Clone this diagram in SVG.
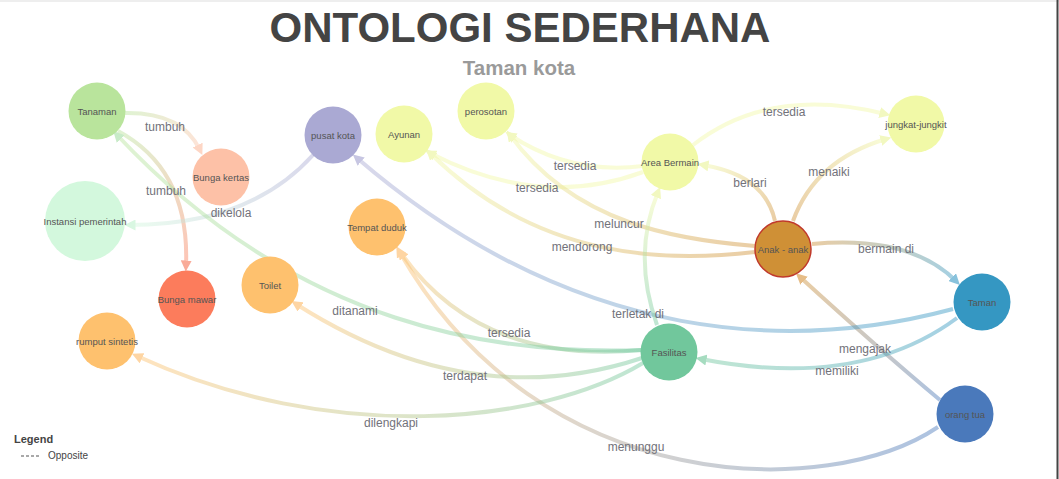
<svg xmlns="http://www.w3.org/2000/svg" width="1059" height="479" viewBox="0 0 1059 479">
<style>
.title{font-family:"Liberation Sans",Arial,sans-serif;font-weight:bold;font-size:42px;fill:#444;text-anchor:middle}
.sub{font-family:"Liberation Sans",Arial,sans-serif;font-weight:bold;font-size:20.5px;fill:#9a9a9a;text-anchor:middle}
.edge{fill:none;stroke-width:4;stroke-opacity:0.45}
.elab{font-family:"Liberation Sans",Arial,sans-serif;font-size:12px;fill:#72727a;text-anchor:middle}
.nlab{font-family:"Liberation Sans",Arial,sans-serif;font-size:9.5px;fill:#555;text-anchor:middle}
.leg{font-family:"Liberation Sans",Arial,sans-serif;fill:#444}
</style>
<defs>
<marker id="m-peach" viewBox="0 0 10 10" refX="5" refY="5" markerWidth="11" markerHeight="11" markerUnits="userSpaceOnUse" orient="auto"><path d="M0,0 L10,5 L0,10 z" fill="#fdd6c5"/></marker>
<marker id="m-coral" viewBox="0 0 10 10" refX="5" refY="5" markerWidth="11" markerHeight="11" markerUnits="userSpaceOnUse" orient="auto"><path d="M0,0 L10,5 L0,10 z" fill="#f9ab99"/></marker>
<marker id="m-mint" viewBox="0 0 10 10" refX="5" refY="5" markerWidth="11" markerHeight="11" markerUnits="userSpaceOnUse" orient="auto"><path d="M0,0 L10,5 L0,10 z" fill="#d9f7e2"/></marker>
<marker id="m-yellow" viewBox="0 0 10 10" refX="5" refY="5" markerWidth="11" markerHeight="11" markerUnits="userSpaceOnUse" orient="auto"><path d="M0,0 L10,5 L0,10 z" fill="#f2f8c0"/></marker>
<marker id="m-blue" viewBox="0 0 10 10" refX="5" refY="5" markerWidth="11" markerHeight="11" markerUnits="userSpaceOnUse" orient="auto"><path d="M0,0 L10,5 L0,10 z" fill="#88c2dc"/></marker>
<marker id="m-tan" viewBox="0 0 10 10" refX="5" refY="5" markerWidth="11" markerHeight="11" markerUnits="userSpaceOnUse" orient="auto"><path d="M0,0 L10,5 L0,10 z" fill="#e6bd88"/></marker>
<marker id="m-orange" viewBox="0 0 10 10" refX="5" refY="5" markerWidth="11" markerHeight="11" markerUnits="userSpaceOnUse" orient="auto"><path d="M0,0 L10,5 L0,10 z" fill="#fed5a3"/></marker>
<marker id="m-green" viewBox="0 0 10 10" refX="5" refY="5" markerWidth="11" markerHeight="11" markerUnits="userSpaceOnUse" orient="auto"><path d="M0,0 L10,5 L0,10 z" fill="#c8ebc8"/></marker>
<marker id="m-purple" viewBox="0 0 10 10" refX="5" refY="5" markerWidth="11" markerHeight="11" markerUnits="userSpaceOnUse" orient="auto"><path d="M0,0 L10,5 L0,10 z" fill="#c7c6e2"/></marker>
<marker id="m-teal" viewBox="0 0 10 10" refX="5" refY="5" markerWidth="11" markerHeight="11" markerUnits="userSpaceOnUse" orient="auto"><path d="M0,0 L10,5 L0,10 z" fill="#a6dcc0"/></marker>

<linearGradient id="g1" gradientUnits="userSpaceOnUse" x1="125" y1="113" x2="200" y2="150"><stop offset="0" stop-color="#b9e49c"/><stop offset="1" stop-color="#fdc1a7"/></linearGradient>
<linearGradient id="g2" gradientUnits="userSpaceOnUse" x1="118" y1="131" x2="186" y2="266"><stop offset="0" stop-color="#b9e49c"/><stop offset="1" stop-color="#fc7c5c"/></linearGradient>
<linearGradient id="g3" gradientUnits="userSpaceOnUse" x1="313" y1="155" x2="130" y2="225"><stop offset="0" stop-color="#aaa9d3"/><stop offset="1" stop-color="#d3f8dd"/></linearGradient>
<linearGradient id="g6" gradientUnits="userSpaceOnUse" x1="755" y1="246" x2="510" y2="135"><stop offset="0" stop-color="#cf9036"/><stop offset="1" stop-color="#f1f9a7"/></linearGradient>
<linearGradient id="g7" gradientUnits="userSpaceOnUse" x1="755" y1="252" x2="430" y2="153"><stop offset="0" stop-color="#cf9036"/><stop offset="1" stop-color="#f1f9a7"/></linearGradient>
<linearGradient id="g8" gradientUnits="userSpaceOnUse" x1="775" y1="221" x2="703" y2="165"><stop offset="0" stop-color="#cf9036"/><stop offset="1" stop-color="#f1f9a7"/></linearGradient>
<linearGradient id="g9" gradientUnits="userSpaceOnUse" x1="793" y1="221" x2="886" y2="139"><stop offset="0" stop-color="#cf9036"/><stop offset="1" stop-color="#f1f9a7"/></linearGradient>
<linearGradient id="g11" gradientUnits="userSpaceOnUse" x1="812" y1="244" x2="956" y2="281"><stop offset="0" stop-color="#cf9036"/><stop offset="1" stop-color="#3597c2"/></linearGradient>
<linearGradient id="g12" gradientUnits="userSpaceOnUse" x1="940" y1="400" x2="800" y2="277"><stop offset="0" stop-color="#4a79bb"/><stop offset="1" stop-color="#cf9036"/></linearGradient>
<linearGradient id="g13" gradientUnits="userSpaceOnUse" x1="938" y1="427" x2="399" y2="251"><stop offset="0" stop-color="#4a79bb"/><stop offset="1" stop-color="#fec16e"/></linearGradient>
<linearGradient id="g14" gradientUnits="userSpaceOnUse" x1="642" y1="350" x2="399" y2="251"><stop offset="0" stop-color="#71c79c"/><stop offset="1" stop-color="#fec16e"/></linearGradient>
<linearGradient id="g15" gradientUnits="userSpaceOnUse" x1="642" y1="358" x2="296" y2="304"><stop offset="0" stop-color="#71c79c"/><stop offset="1" stop-color="#fec16e"/></linearGradient>
<linearGradient id="g16" gradientUnits="userSpaceOnUse" x1="643" y1="363" x2="137" y2="356"><stop offset="0" stop-color="#71c79c"/><stop offset="1" stop-color="#fec16e"/></linearGradient>
<linearGradient id="g17" gradientUnits="userSpaceOnUse" x1="642" y1="350" x2="117" y2="135"><stop offset="0" stop-color="#71c79c"/><stop offset="1" stop-color="#b9e49c"/></linearGradient>
<linearGradient id="g18" gradientUnits="userSpaceOnUse" x1="953" y1="309" x2="357" y2="158"><stop offset="0" stop-color="#3597c2"/><stop offset="1" stop-color="#aaa9d3"/></linearGradient>
<linearGradient id="g19" gradientUnits="userSpaceOnUse" x1="957" y1="318" x2="701" y2="359"><stop offset="0" stop-color="#3597c2"/><stop offset="1" stop-color="#71c79c"/></linearGradient>
<linearGradient id="g20" gradientUnits="userSpaceOnUse" x1="657" y1="325" x2="658" y2="192"><stop offset="0" stop-color="#71c79c"/><stop offset="1" stop-color="#f1f9a7"/></linearGradient>
</defs>

<rect x="0" y="0" width="1059" height="479" fill="#ffffff"/>
<rect x="0" y="0" width="1059" height="2" fill="#eeeeee"/>
<line x1="1057.5" y1="0" x2="1057.5" y2="479" stroke="#444" stroke-width="2"/>

<text class="title" x="520" y="42">ONTOLOGI SEDERHANA</text>
<text class="sub" x="519" y="75">Taman kota</text>

<g id="connectors">
<path class="edge" d="M125,113 Q182,112 200,150" stroke="url(#g1)" marker-end="url(#m-peach)"/>
<path class="edge" d="M118,131 Q190,170 186,266" stroke="url(#g2)" marker-end="url(#m-coral)"/>
<path class="edge" d="M313,155 Q250,225 130,225" stroke="url(#g3)" marker-end="url(#m-mint)"/>
<path class="edge" d="M643,166 Q570,175 510,135" stroke="#f1f9a7" stroke-opacity="0.7" marker-end="url(#m-yellow)"/>
<path class="edge" d="M643,172 Q540,210 430,153" stroke="#f1f9a7" stroke-opacity="0.7" marker-end="url(#m-yellow)"/>
<path class="edge" d="M755,246 C680,240 575,225 510,135" stroke="url(#g6)" marker-end="url(#m-yellow)"/>
<path class="edge" d="M755,252 C670,262 540,262 430,153" stroke="url(#g7)" marker-end="url(#m-yellow)"/>
<path class="edge" d="M775,221 Q765,175 703,165" stroke="url(#g8)" marker-end="url(#m-yellow)"/>
<path class="edge" d="M793,221 Q815,160 886,139" stroke="url(#g9)" marker-end="url(#m-yellow)"/>
<path class="edge" d="M693,145 Q770,85 885,114" stroke="#f1f9a7" stroke-opacity="0.7" marker-end="url(#m-yellow)"/>
<path class="edge" d="M812,244 Q910,235 956,281" stroke="url(#g11)" marker-end="url(#m-blue)"/>
<path class="edge" d="M940,400 Q880,350 800,277" stroke="url(#g12)" marker-end="url(#m-tan)"/>
<path class="edge" d="M938,427 C830,500 540,500 399,251" stroke="url(#g13)" marker-end="url(#m-orange)"/>
<path class="edge" d="M642,350 Q480,365 401,253" stroke="url(#g14)" marker-end="url(#m-orange)"/>
<path class="edge" d="M642,358 Q470,415 296,304" stroke="url(#g15)" marker-end="url(#m-orange)"/>
<path class="edge" d="M643,363 C540,425 330,445 137,356" stroke="url(#g16)" marker-end="url(#m-orange)"/>
<path class="edge" d="M642,350 C500,355 300,330 117,135" stroke="url(#g17)" marker-end="url(#m-green)"/>
<path class="edge" d="M953,309 C800,350 580,350 357,158" stroke="url(#g18)" marker-end="url(#m-purple)"/>
<path class="edge" d="M957,318 Q860,390 701,359" stroke="url(#g19)" marker-end="url(#m-teal)"/>
<path class="edge" d="M657,325 Q632,255 658,192" stroke="url(#g20)" marker-end="url(#m-yellow)"/>
</g>

<g id="n-tanaman"><circle cx="97" cy="111" r="28.5" fill="#b9e49c"/><text class="nlab" x="97" y="114.5">Tanaman</text></g>
<g id="n-bunga-kertas"><circle cx="221" cy="177" r="28.5" fill="#fdc1a7"/><text class="nlab" x="221" y="180.5">Bunga kertas</text></g>
<g id="n-pusat-kota"><circle cx="333" cy="135" r="28.5" fill="#aaa9d3"/><text class="nlab" x="333" y="138.5">pusat kota</text></g>
<g id="n-instansi"><circle cx="85" cy="221" r="40" fill="#d3f8dd"/><text class="nlab" x="85" y="224.5">Instansi pemerintah</text></g>
<g id="n-bunga-mawar"><circle cx="187" cy="299" r="28.5" fill="#fc7c5c"/><text class="nlab" x="187" y="302.5">Bunga mawar</text></g>
<g id="n-toilet"><circle cx="270" cy="285" r="28.5" fill="#fec16e"/><text class="nlab" x="270" y="288.5">Toilet</text></g>
<g id="n-rumput"><circle cx="107" cy="341" r="28.5" fill="#fec16e"/><text class="nlab" x="107" y="344.5">rumput sintetis</text></g>
<g id="n-ayunan"><circle cx="404" cy="134" r="28.5" fill="#f1f9a7"/><text class="nlab" x="404" y="137.5">Ayunan</text></g>
<g id="n-perosotan"><circle cx="486" cy="111" r="28.5" fill="#f1f9a7"/><text class="nlab" x="486" y="114.5">perosotan</text></g>
<g id="n-area"><circle cx="670" cy="162" r="28.5" fill="#f1f9a7"/><text class="nlab" x="670" y="165.5">Area Bermain</text></g>
<g id="n-tempat-duduk"><circle cx="377" cy="227" r="28.5" fill="#fec16e"/><text class="nlab" x="377" y="230.5">Tempat duduk</text></g>
<g id="n-jungkat"><circle cx="916" cy="124" r="28.5" fill="#f1f9a7"/><text class="nlab" x="916" y="127.5">jungkat-jungkit</text></g>
<g id="n-anak"><circle cx="783" cy="249" r="28" fill="#cf9036" stroke="#c0392b" stroke-width="1.5"/><text class="nlab" x="783" y="252.5">Anak - anak</text></g>
<g id="n-taman"><circle cx="982" cy="302" r="28.5" fill="#3597c2"/><text class="nlab" x="982" y="305.5">Taman</text></g>
<g id="n-fasilitas"><circle cx="669" cy="352" r="28.5" fill="#71c79c"/><text class="nlab" x="669" y="355.5">Fasilitas</text></g>
<g id="n-orang-tua"><circle cx="965" cy="414" r="28.5" fill="#4a79bb"/><text class="nlab" x="965" y="417.5">orang tua</text></g>

<g id="edge-labels">
<text class="elab" x="165" y="131">tumbuh</text>
<text class="elab" x="166" y="195">tumbuh</text>
<text class="elab" x="231" y="217">dikelola</text>
<text class="elab" x="575" y="170">tersedia</text>
<text class="elab" x="537" y="192">tersedia</text>
<text class="elab" x="619" y="228">meluncur</text>
<text class="elab" x="582" y="251">mendorong</text>
<text class="elab" x="784" y="116">tersedia</text>
<text class="elab" x="750" y="187">berlari</text>
<text class="elab" x="829" y="176">menaiki</text>
<text class="elab" x="886" y="253">bermain di</text>
<text class="elab" x="638" y="318">terletak di</text>
<text class="elab" x="355" y="315">ditanami</text>
<text class="elab" x="509" y="337">tersedia</text>
<text class="elab" x="465" y="380">terdapat</text>
<text class="elab" x="391" y="427">dilengkapi</text>
<text class="elab" x="636" y="451">menunggu</text>
<text class="elab" x="865" y="353">mengajak</text>
<text class="elab" x="837" y="375">memiliki</text>
</g>

<g id="legend">
<text class="leg" x="14" y="443" font-size="11" font-weight="bold" fill="#333">Legend</text>
<line x1="21" y1="456" x2="40" y2="456" stroke="#555" stroke-width="1.2" stroke-dasharray="3,2"/>
<text class="leg" x="48" y="459" font-size="10">Opposite</text>
</g>
</svg>
